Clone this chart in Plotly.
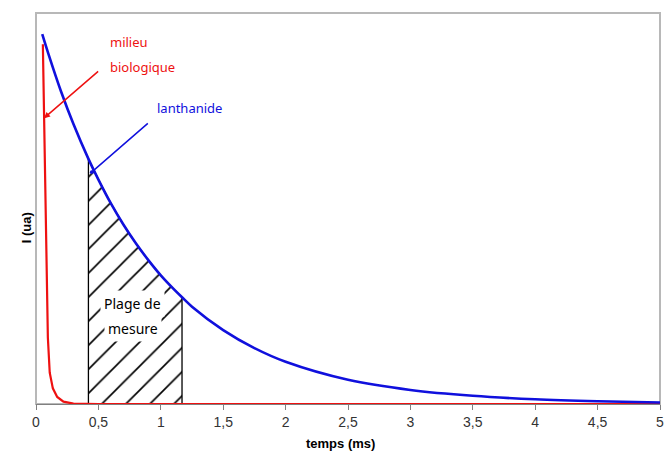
import plotly.graph_objects as go

# Luminescence decay: lanthanide emission vs. biological background
t_lanth = [0.05, 0.1, 0.2, 0.3, 0.42, 0.5, 0.6, 0.7, 0.8, 0.9, 1.0, 1.1, 1.17,
           1.25, 1.5, 1.75, 2.0, 2.5, 3.0, 3.5, 4.0, 4.5, 5.0]
i_lanth = [0.946, 0.895, 0.80, 0.716, 0.627, 0.574, 0.513, 0.459, 0.411, 0.368,
           0.329, 0.295, 0.273, 0.249, 0.189, 0.143, 0.108, 0.062, 0.036, 0.021,
           0.012, 0.007, 0.004]

t_bio = [0.055, 0.065, 0.075, 0.085, 0.095, 0.11, 0.135, 0.17, 0.22, 0.3, 0.5,
         1.0, 2.0, 3.0, 4.0, 5.0]
i_bio = [0.92, 0.72, 0.52, 0.33, 0.17, 0.08, 0.04, 0.018, 0.006, 0.001, 0.0,
         0.0, 0.0, 0.0, 0.0, 0.0]

# measurement window (ms)
win_start, win_end = 0.42, 1.17

x_ticks = [0, 0.5, 1, 1.5, 2, 2.5, 3, 3.5, 4, 4.5, 5]

comic = "Comic Sans MS, Noto Sans, sans-serif"
sans = "Liberation Sans, Arial, sans-serif"

# hatched area under the lanthanide curve within the window
wx = [win_start] + [t for t in t_lanth if win_start <= t <= win_end] + [win_end, win_start]
wy = [0.0] + [v for t, v in zip(t_lanth, i_lanth) if win_start <= t <= win_end] + [0.0, 0.0]

fig = go.Figure()
fig.add_trace(go.Scatter(
    x=wx, y=wy, mode="lines", fill="toself",
    fillcolor="rgba(0,0,0,0)",
    fillpattern=dict(shape="/", size=17, solidity=0.1, fgcolor="black",
                     fgopacity=1, bgcolor="white"),
    line=dict(color="black", width=1.3), hoverinfo="skip", showlegend=False,
))
fig.add_trace(go.Scatter(
    x=t_bio, y=i_bio, mode="lines", line=dict(color="#ee1111", width=2.2),
    showlegend=False,
))
fig.add_trace(go.Scatter(
    x=t_lanth, y=i_lanth, mode="lines", line=dict(color="#1010dd", width=2.6, shape="spline"),
    showlegend=False,
))

annotations = [
    dict(x=0.573, y=0.926, xref="x", yref="y", text="milieu", showarrow=False,
         xanchor="left", font=dict(family=comic, size=13, color="#ee1111")),
    dict(x=0.573, y=0.862, xref="x", yref="y", text="biologique", showarrow=False,
         xanchor="left", font=dict(family=comic, size=13, color="#ee1111")),
    dict(x=0.064, y=0.731, ax=0.51, ay=0.854, xref="x", yref="y", axref="x", ayref="y",
         text="", showarrow=True, arrowhead=2, arrowsize=0.8, arrowwidth=1.5,
         arrowcolor="#ee1111"),
    dict(x=0.95, y=0.757, xref="x", yref="y", text="lanthanide", showarrow=False,
         xanchor="left", font=dict(family=comic, size=13, color="#1010dd")),
    dict(x=0.446, y=0.593, ax=0.908, ay=0.721, xref="x", yref="y", axref="x", ayref="y",
         text="", showarrow=True, arrowhead=6, arrowsize=0.6, arrowwidth=1.5,
         arrowcolor="#1010dd"),
    dict(x=0.772, y=0.258, xref="x", yref="y", text="Plage de", showarrow=False,
         bgcolor="white", borderpad=3, font=dict(family=comic, size=14, color="black")),
    dict(x=0.78, y=0.194, xref="x", yref="y", text="mesure", showarrow=False,
         bgcolor="white", borderpad=3, font=dict(family=comic, size=14, color="black")),
    dict(x=-0.031, y=0.45, xref="paper", yref="paper", text="<b>I (ua)</b>",
         showarrow=False, textangle=-90,
         font=dict(family=sans, size=13, color="black")),
    dict(x=0.488, y=-0.102, xref="paper", yref="paper", text="<b>temps (ms)</b>",
         showarrow=False, yanchor="middle",
         font=dict(family=sans, size=13, color="black")),
]

fig.update_layout(
    width=666, height=454,
    margin=dict(l=36, r=2, t=13, b=50),
    paper_bgcolor="white", plot_bgcolor="white",
    separators=", ",
    annotations=annotations,
    shapes=[dict(type="rect", xref="paper", yref="paper", x0=0, x1=1, y0=0, y1=1,
                 line=dict(color="#b8b8b8", width=2), layer="below")],
    xaxis=dict(range=[0, 5], tickvals=x_ticks, ticks="outside", ticklen=5,
               tickcolor="#808080", showgrid=False, zeroline=False,
               showline=True, linecolor="#808080", linewidth=1,
               ticklabeloverflow="allow",
               tickfont=dict(family=sans, size=14, color="#333333")),
    yaxis=dict(range=[0, 1], showticklabels=False, ticks="", showgrid=False,
               zeroline=False, showline=False),
)

fig.write_html("out.html")
